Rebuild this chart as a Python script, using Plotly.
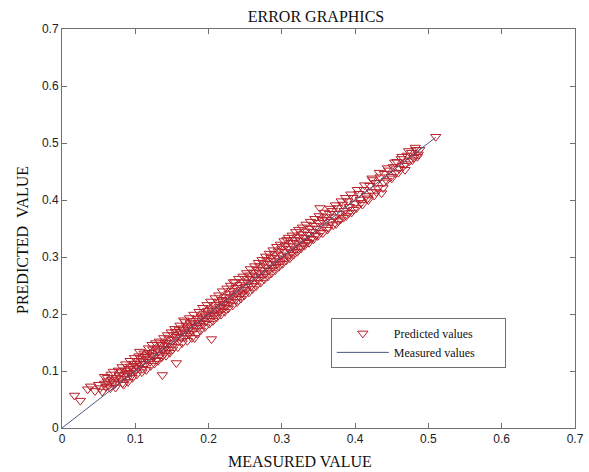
import plotly.graph_objects as go

measured = [
    0.017, 0.025, 0.035, 0.039, 0.045, 0.050, 0.052, 0.055, 0.058, 0.058, 0.060, 0.062, 0.064, 0.066, 0.068, 0.070, 0.070, 0.072,
    0.074, 0.076, 0.078, 0.080, 0.081, 0.083, 0.085, 0.086, 0.088, 0.089, 0.091, 0.092, 0.094, 0.095, 0.097, 0.098, 0.100, 0.101,
    0.103, 0.104, 0.106, 0.107, 0.108, 0.110, 0.111, 0.113, 0.114, 0.116, 0.117, 0.119, 0.120, 0.122, 0.124, 0.125, 0.127, 0.129,
    0.130, 0.132, 0.134, 0.135, 0.137, 0.138, 0.140, 0.141, 0.143, 0.145, 0.146, 0.148, 0.150,
    0.152, 0.153, 0.155, 0.156, 0.157, 0.159, 0.160, 0.162, 0.163, 0.165, 0.166, 0.167, 0.169, 0.170, 0.172, 0.173, 0.175, 0.176,
    0.178, 0.179, 0.181, 0.181, 0.183, 0.185, 0.186, 0.188, 0.190, 0.191, 0.193, 0.194, 0.196, 0.197, 0.199, 0.200, 0.202, 0.204,
    0.204, 0.205, 0.207, 0.208, 0.210, 0.212, 0.213, 0.215, 0.216, 0.218, 0.220, 0.221, 0.223, 0.224, 0.226, 0.228, 0.229, 0.231,
    0.232, 0.234, 0.235, 0.237, 0.238, 0.240, 0.242, 0.243, 0.245, 0.246, 0.248, 0.250,
    0.251, 0.253, 0.254, 0.256, 0.258, 0.259, 0.261, 0.262, 0.264, 0.266, 0.267, 0.269, 0.270, 0.272, 0.274, 0.275, 0.277, 0.279,
    0.280, 0.282, 0.284, 0.285, 0.287, 0.289, 0.290, 0.292, 0.294, 0.295, 0.297, 0.299, 0.300, 0.302, 0.304, 0.305, 0.307, 0.308,
    0.310, 0.312, 0.313, 0.315, 0.317, 0.318, 0.320, 0.322, 0.324, 0.325, 0.327, 0.329, 0.330, 0.332, 0.334, 0.336, 0.338, 0.340,
    0.342, 0.344, 0.346, 0.348,
    0.350, 0.352, 0.353, 0.355, 0.357, 0.359, 0.361, 0.363, 0.365, 0.367, 0.369, 0.372, 0.374, 0.376, 0.378, 0.380, 0.383, 0.385,
    0.388, 0.390, 0.392, 0.395, 0.397, 0.400, 0.402, 0.405, 0.407, 0.410, 0.412, 0.415, 0.418, 0.420, 0.422, 0.424, 0.426, 0.428,
    0.431, 0.434, 0.436, 0.438, 0.440, 0.443, 0.446, 0.449, 0.452, 0.455, 0.457, 0.460, 0.463, 0.466, 0.468, 0.471, 0.474, 0.477,
    0.480, 0.483, 0.486, 0.488, 0.510,
]

predicted = [
    0.057, 0.048, 0.068, 0.073, 0.065, 0.076, 0.070, 0.064, 0.090, 0.078, 0.072, 0.082, 0.075, 0.070, 0.085, 0.099, 0.080, 0.077,
    0.088, 0.082, 0.093, 0.086, 0.098, 0.079, 0.092, 0.101, 0.095, 0.087, 0.104, 0.097, 0.108, 0.092, 0.103, 0.113, 0.100, 0.109,
    0.118, 0.106, 0.134, 0.113, 0.121, 0.104, 0.117, 0.125, 0.112, 0.128, 0.121, 0.132, 0.116, 0.127, 0.138, 0.124, 0.133, 0.120,
    0.140, 0.135, 0.128, 0.146, 0.093, 0.139, 0.131, 0.150, 0.144, 0.137, 0.156, 0.149, 0.143,
    0.163, 0.155, 0.169, 0.114, 0.160, 0.152, 0.172, 0.166, 0.158, 0.175, 0.189, 0.168, 0.162, 0.179, 0.172, 0.165, 0.184, 0.177,
    0.170, 0.188, 0.158, 0.182, 0.176, 0.192, 0.185, 0.179, 0.196, 0.189, 0.183, 0.201, 0.194, 0.188, 0.206, 0.199, 0.192, 0.156,
    0.210, 0.203, 0.197, 0.216, 0.208, 0.201, 0.221, 0.213, 0.206, 0.225, 0.218, 0.211, 0.230, 0.223, 0.216, 0.236, 0.228, 0.221,
    0.241, 0.256, 0.233, 0.226, 0.246, 0.238, 0.231, 0.251, 0.243, 0.236, 0.256, 0.248,
    0.242, 0.262, 0.255, 0.268, 0.249, 0.261, 0.273, 0.254, 0.266, 0.278, 0.260, 0.272, 0.284, 0.265, 0.277, 0.289, 0.270, 0.282,
    0.294, 0.276, 0.288, 0.299, 0.281, 0.293, 0.305, 0.286, 0.298, 0.310, 0.291, 0.303, 0.315, 0.296, 0.309, 0.320, 0.330, 0.301,
    0.314, 0.325, 0.307, 0.319, 0.330, 0.312, 0.324, 0.335, 0.317, 0.329, 0.340, 0.322, 0.334, 0.345, 0.327, 0.339, 0.350, 0.332,
    0.344, 0.355, 0.338, 0.350,
    0.360, 0.386, 0.343, 0.365, 0.354, 0.370, 0.365, 0.352, 0.376, 0.362, 0.381, 0.370, 0.358, 0.386, 0.376, 0.366, 0.392, 0.381,
    0.372, 0.398, 0.388, 0.378, 0.404, 0.394, 0.386, 0.411, 0.401, 0.392, 0.418, 0.407, 0.400, 0.425, 0.414, 0.435, 0.408, 0.430,
    0.421, 0.440, 0.412, 0.421, 0.446, 0.434, 0.452, 0.441, 0.458, 0.447, 0.467, 0.455, 0.472, 0.460, 0.453, 0.478, 0.468, 0.483,
    0.474, 0.488, 0.480, 0.488, 0.511,
]

measured_extra = [
    0.062, 0.067, 0.073, 0.077, 0.082, 0.084, 0.087, 0.090, 0.093, 0.096, 0.099, 0.102, 0.105, 0.109, 0.112, 0.115, 0.118, 0.121,
    0.123, 0.126, 0.128, 0.131, 0.133, 0.136, 0.139, 0.142, 0.144, 0.147, 0.149, 0.151, 0.154, 0.158, 0.161, 0.164, 0.168, 0.171,
    0.174, 0.177, 0.180, 0.184, 0.187, 0.189, 0.192, 0.195, 0.198, 0.201, 0.203, 0.206, 0.209, 0.211, 0.214, 0.217, 0.219, 0.222,
    0.225, 0.227, 0.230, 0.233, 0.236, 0.239, 0.241, 0.244, 0.247, 0.249, 0.252, 0.255, 0.257, 0.260, 0.263, 0.265, 0.268, 0.271,
    0.273, 0.276, 0.278, 0.281, 0.283, 0.286, 0.288, 0.291, 0.293, 0.296, 0.298, 0.301, 0.303, 0.306, 0.309, 0.311, 0.314, 0.316,
    0.319, 0.321, 0.323, 0.326, 0.328, 0.331, 0.333, 0.337, 0.339, 0.343, 0.345, 0.349, 0.351, 0.356, 0.358, 0.362, 0.366, 0.370,
    0.373, 0.377, 0.381, 0.384, 0.387, 0.391, 0.394, 0.398, 0.403, 0.408, 0.413, 0.417, 0.423, 0.429, 0.433, 0.439, 0.444, 0.450,
    0.454, 0.459, 0.464, 0.469, 0.473, 0.478, 0.482, 0.485,
]

predicted_extra = [
    0.088, 0.094, 0.071, 0.101, 0.107, 0.076, 0.112, 0.081, 0.118, 0.088, 0.123, 0.094, 0.126, 0.098, 0.131, 0.102, 0.140, 0.109,
    0.146, 0.113, 0.149, 0.118, 0.152, 0.124, 0.158, 0.127, 0.163, 0.132, 0.168, 0.138, 0.174, 0.142, 0.180, 0.149, 0.186, 0.153,
    0.193, 0.158, 0.199, 0.166, 0.204, 0.171, 0.211, 0.177, 0.216, 0.183, 0.222, 0.188, 0.228, 0.194, 0.233, 0.199, 0.240, 0.204,
    0.245, 0.210, 0.250, 0.215, 0.256, 0.221, 0.262, 0.227, 0.266, 0.233, 0.272, 0.238, 0.279, 0.244, 0.284, 0.249, 0.290, 0.255,
    0.295, 0.261, 0.301, 0.266, 0.306, 0.272, 0.312, 0.277, 0.318, 0.283, 0.322, 0.288, 0.328, 0.294, 0.334, 0.298, 0.338, 0.304,
    0.344, 0.309, 0.348, 0.315, 0.352, 0.320, 0.357, 0.325, 0.362, 0.331, 0.367, 0.337, 0.372, 0.342, 0.378, 0.348, 0.385, 0.356,
    0.391, 0.363, 0.398, 0.369, 0.404, 0.377, 0.410, 0.383, 0.418, 0.395, 0.426, 0.403, 0.438, 0.414, 0.448, 0.431, 0.456, 0.438,
    0.466, 0.448, 0.476, 0.463, 0.486, 0.470, 0.492, 0.476,
]

line_x = [0.0, 0.51]
line_y = [0.0, 0.51]

tick_vals = [0, 0.1, 0.2, 0.3, 0.4, 0.5, 0.6, 0.7]
tick_text = ["0", "0.1", "0.2", "0.3", "0.4", "0.5", "0.6", "0.7"]

marker_color = "#b8202a"

fig = go.Figure()
fig.add_trace(go.Scatter(
    x=measured + measured_extra, y=predicted + predicted_extra, mode="markers",
    name="Predicted values\u00a0\u00a0\u00a0\u00a0\u00a0\u00a0\u00a0\u00a0\u00a0",
    marker=dict(symbol="triangle-down-open", size=9, color=marker_color,
                line=dict(width=1, color=marker_color)),
))
fig.add_trace(go.Scatter(
    x=line_x, y=line_y, mode="lines", name="Measured values",
    line=dict(color="#4a5680", width=1),
))

axis_common = dict(
    range=[0, 0.7], tickvals=tick_vals, ticktext=tick_text, automargin=False,
    showgrid=False, zeroline=False, showline=True, linecolor="#707070", linewidth=1,
    mirror="ticks", ticks="inside", ticklen=5, tickcolor="#707070",
    tickfont=dict(family="Liberation Sans, Arial", size=12, color="#222"),
    ticklabeloverflow="allow",
)

fig.update_layout(
    width=589, height=472, autosize=False,
    margin=dict(l=62, r=14, t=29, b=44, autoexpand=False),
    paper_bgcolor="white", plot_bgcolor="white",
    xaxis=axis_common,
    yaxis=axis_common,
    showlegend=True,
    legend=dict(x=0.524, y=0.276, xanchor="left", yanchor="top",
                bgcolor="white", bordercolor="#707070", borderwidth=1,
                font=dict(family="Liberation Serif, Times New Roman", size=12, color="#111"),
                itemwidth=52, tracegroupgap=0),
    title=dict(text="ERROR GRAPHICS", x=316 / 589, xanchor="center", y=1 - 16 / 472, yanchor="middle",
               font=dict(family="Liberation Serif, Times New Roman", size=16, color="#111")),
    annotations=[
        dict(text="MEASURED VALUE", xref="paper", yref="paper", x=(300 - 62) / 513, y=(428 - 461) / 399,
             xanchor="center", yanchor="middle", showarrow=False,
             font=dict(family="Liberation Serif, Times New Roman", size=16, color="#111")),
        dict(text="PREDICTED\u00a0\u00a0VALUE", xref="paper", yref="paper", x=(22 - 62) / 513, y=(428 - 240) / 399,
             xanchor="center", yanchor="middle", showarrow=False, textangle=-90,
             font=dict(family="Liberation Serif, Times New Roman", size=16, color="#111")),
    ],
)

post = (
    "document.documentElement.style.margin='0px';"
    "document.body.style.margin='0px';"
    "document.documentElement.style.overflow='hidden';"
    "document.body.style.overflow='hidden';"
)

fig.write_html("out.html", config={"displayModeBar": False}, post_script=post)
